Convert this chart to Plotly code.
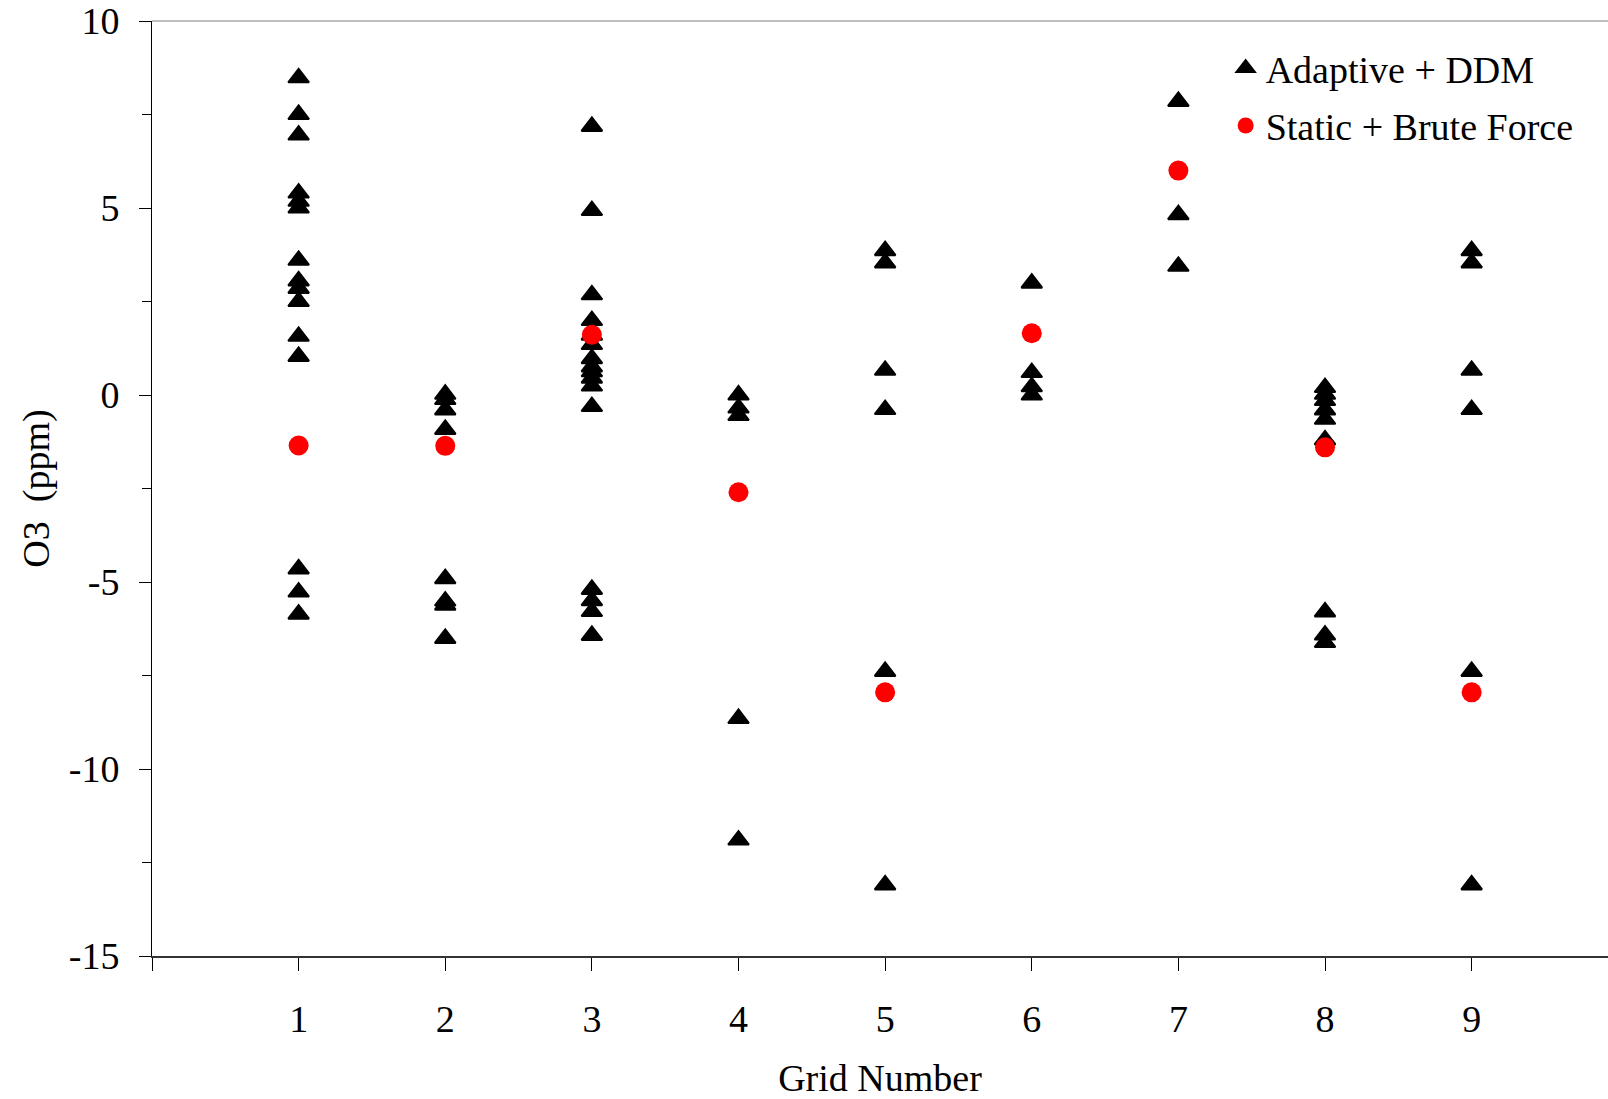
import plotly.graph_objects as go

# Adaptive + DDM (triangles), one entry per point
adaptive_grid = ([1] * 15 + [2] * 8 + [3] * 16 + [4] * 5 + [5] * 6
                 + [6] * 4 + [7] * 3 + [8] * 9 + [9] * 6)
adaptive_o3 = [
    8.48, 7.5, 6.95, 5.4, 5.18, 5.0, 3.6, 3.05, 2.85, 2.5, 1.57, 1.03, -4.65, -5.27, -5.86,
    0.02, -0.12, -0.4, -0.92, -4.91, -5.51, -5.62, -6.51,
    7.18, 4.93, 2.68, 1.99, 1.6, 1.35, 0.97, 0.75, 0.62, 0.45, 0.24, -0.31, -5.2, -5.5, -5.79, -6.43,
    0.0, -0.35, -0.55, -8.65, -11.9,
    3.86, 3.53, 0.66, -0.39, -7.39, -13.1,
    2.99, 0.6, 0.22, 0.0,
    7.85, 4.82, 3.44,
    0.2, 0.02, -0.15, -0.4, -0.65, -1.2, -5.8, -6.42, -6.62,
    3.86, 3.53, 0.66, -0.39, -7.39, -13.1,
]

# Static + Brute Force (red circles)
static_grid = [1, 2, 3, 4, 5, 6, 7, 8, 9]
static_o3 = [-1.35, -1.36, 1.61, -2.6, -7.95, 1.65, 6.0, -1.4, -7.95]

x_ticks = [0, 1, 2, 3, 4, 5, 6, 7, 8, 9]
x_labels = ["", "1", "2", "3", "4", "5", "6", "7", "8", "9"]
y_ticks = [-15, -10, -5, 0, 5, 10]
y_labels = ["-15", "-10", "-5", "0", "5", "10"]

font = "Liberation Serif, Times New Roman, serif"

fig = go.Figure()
fig.add_trace(go.Scatter(
    x=adaptive_grid, y=adaptive_o3, mode="markers", name="Adaptive + DDM",
    legendgroup="a",
    marker=dict(symbol="triangle-up", size=18, color="black",
                line=dict(color="black", width=2)),
))
fig.add_trace(go.Scatter(
    x=static_grid, y=static_o3, mode="markers", name="Static + Brute Force",
    legendgroup="b",
    marker=dict(symbol="circle", size=20, color="#ff0000"),
))

fig.update_layout(
    width=1608, height=1099,
    margin=dict(l=152, r=0, t=18, b=143),
    paper_bgcolor="white", plot_bgcolor="white",
    font=dict(family=font, size=38, color="black"),
    showlegend=True,
    legend=dict(x=0.7374, y=0.983, xanchor="left", yanchor="top",
                bgcolor="rgba(0,0,0,0)", tracegroupgap=5,
                font=dict(family=font, size=38)),
    shapes=[dict(type="line", xref="paper", yref="paper", x0=0, x1=1, y0=1, y1=1,
                 line=dict(color="#808080", width=1))],
)

fig.update_xaxes(
    range=[0, 9.93], tickmode="array", tickvals=x_ticks, ticktext=x_labels,
    ticks="outside", ticklen=13, tickcolor="black", tickwidth=1,
    showline=True, linecolor="#333333", linewidth=2,
    showgrid=False, zeroline=False, ticklabelstandoff=15,
    title=dict(text="Grid Number", standoff=27, font=dict(size=38)),
)
fig.update_yaxes(
    range=[-15, 10], tickmode="array", tickvals=y_ticks, ticktext=y_labels,
    ticks="outside", ticklen=12, tickcolor="black", tickwidth=1,
    minor=dict(tickmode="linear", tick0=-12.5, dtick=5, ticks="outside",
               ticklen=9, tickcolor="black", tickwidth=1),
    showline=True, linecolor="black", linewidth=1,
    showgrid=False, zeroline=False, ticklabelstandoff=12,
    ticklabeloverflow="allow",
    title=dict(text="O3\u00a0 (ppm)", standoff=7, font=dict(size=38)),
)

# drop the page's default body margin so the figure sits at the top-left corner
fig.write_html("out.html", config={"displayModeBar": False},
               post_script="document.body.style.margin = '0';")
